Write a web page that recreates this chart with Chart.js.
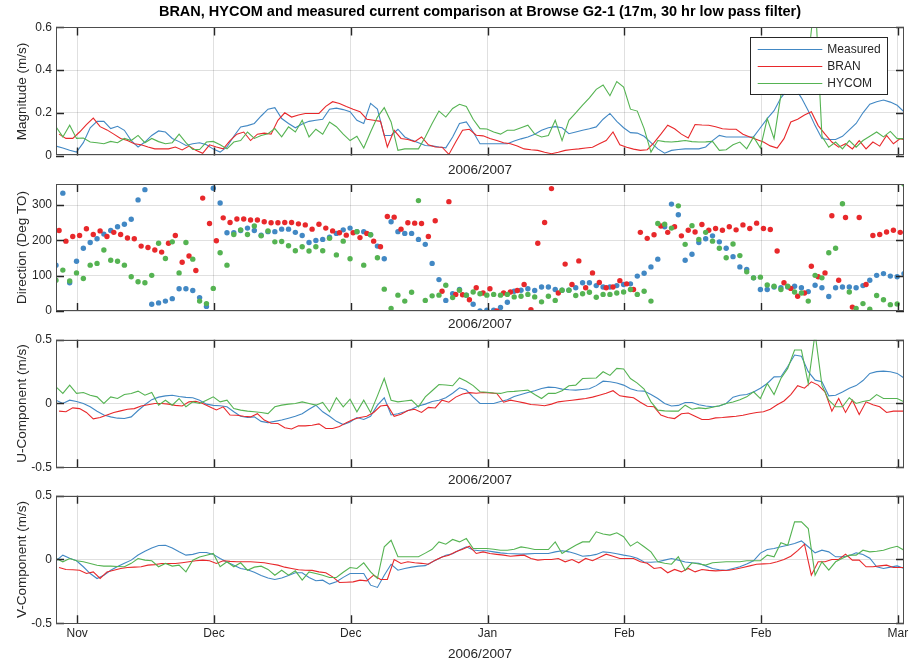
<!DOCTYPE html>
<html>
<head>
<meta charset="utf-8">
<script src="https://cdn.jsdelivr.net/npm/chart.js@4"></script>
<style>
  html, body { margin: 0; padding: 0; background: #fff; }
  #fig { position: relative; width: 913px; height: 664px; overflow: hidden; background: #fff; }
  #fig canvas { position: absolute; left: 0; }
</style>
</head>
<body>
<div id="fig">
  <canvas id="magChart" width="913" height="182" style="top:0px"></canvas>
  <canvas id="dirChart" width="913" height="162" style="top:172px"></canvas>
  <canvas id="uChart" width="913" height="163" style="top:327px"></canvas>
  <canvas id="vChart" width="913" height="182" style="top:482px"></canvas>
</div>
<script>
// #region Data (daily samples, day 0 = start of record)
const dayIndex = Array.from({ length: 125 }, (_, i) => i);
const branShift = 0.45; // BRAN samples sit about half a day later
const tickDays = [3.1, 23.1, 43.1, 63.1, 83.1, 103.1, 123.1];
const tickLabels = ["Nov", "Dec", "Dec", "Jan", "Feb", "Feb", "Mar"];
const seriesNames = ["Measured", "BRAN", "HYCOM"];

// Magnitude (m/s)
const magMeasured = [
  0.044,0.035,0.025,0.016,0.06,0.13,0.16,0.16,0.126,0.137,
  0.118,0.07,0.04,0.063,0.094,0.115,0.11,0.08,0.065,0.047,
  0.055,0.06,0.05,0.03,0.016,0.04,0.09,0.134,0.14,0.15,
  0.185,0.217,0.224,0.173,0.15,0.13,0.148,0.16,0.165,0.17,
  0.217,0.222,0.215,0.205,0.165,0.15,0.244,0.217,0.094,0.094,
  0.123,0.087,0.072,0.06,0.047,0.045,0.04,0.036,0.087,0.15,
  0.157,0.11,0.055,0.055,0.055,0.055,0.055,0.068,0.078,0.087,
  0.1,0.118,0.13,0.135,0.13,0.102,0.11,0.118,0.125,0.134,
  0.17,0.197,0.16,0.13,0.107,0.105,0.09,0.06,0.031,0.011,
  0.024,0.028,0.031,0.031,0.031,0.04,0.07,0.094,0.087,0.087,
  0.087,0.087,0.087,0.13,0.173,0.21,0.27,0.31,0.32,0.27,
  0.21,0.14,0.08,0.075,0.075,0.09,0.12,0.15,0.2,0.24,
  0.252,0.26,0.25,0.235,0.205
];
const magBran = [
  0.1,0.08,0.08,0.11,0.145,0.175,0.135,0.12,0.1,0.08,
  0.07,0.055,0.05,0.04,0.031,0.031,0.031,0.04,0.026,0.044,
  0.025,0.01,0.05,0.04,0.031,0.07,0.1,0.11,0.07,0.1,
  0.105,0.1,0.165,0.2,0.18,0.19,0.197,0.197,0.197,0.23,
  0.252,0.244,0.23,0.217,0.205,0.17,0.165,0.16,0.04,0.118,
  0.08,0.075,0.065,0.087,0.05,0.04,0.039,0.005,0.063,0.118,
  0.123,0.095,0.092,0.08,0.07,0.06,0.055,0.045,0.031,0.027,
  0.024,0.015,0.008,0.015,0.024,0.028,0.031,0.035,0.039,0.055,
  0.07,0.11,0.05,0.039,0.03,0.024,0.027,0.06,0.1,0.142,
  0.125,0.1,0.082,0.145,0.143,0.142,0.135,0.125,0.123,0.123,
  0.1,0.087,0.075,0.063,0.045,0.035,0.079,0.157,0.17,0.19,
  0.205,0.14,0.1,0.063,0.039,0.055,0.031,0.07,0.031,0.063,
  0.044,0.094,0.055,0.079,0.07
];
const magHycom = [
  0.134,0.087,0.142,0.08,0.082,0.063,0.06,0.055,0.066,0.06,
  0.08,0.07,0.094,0.06,0.08,0.065,0.055,0.06,0.1,0.06,
  0.028,0.028,0.063,0.066,0.05,0.031,0.063,0.07,0.11,0.08,
  0.094,0.102,0.126,0.087,0.134,0.11,0.165,0.087,0.123,0.1,
  0.157,0.135,0.1,0.07,0.09,0.035,0.11,0.18,0.224,0.157,
  0.024,0.031,0.031,0.031,0.087,0.15,0.208,0.18,0.22,0.24,
  0.23,0.17,0.126,0.124,0.11,0.1,0.118,0.118,0.13,0.142,
  0.1,0.087,0.094,0.165,0.07,0.165,0.2,0.236,0.27,0.31,
  0.33,0.28,0.346,0.32,0.217,0.208,0.126,0.016,0.07,0.065,
  0.063,0.066,0.07,0.065,0.063,0.064,0.066,0.024,0.027,0.05,
  0.063,0.031,0.087,0.035,0.173,0.079,0.283,0.33,0.36,0.4,
  0.45,0.75,0.09,0.039,0.063,0.031,0.07,0.039,0.07,0.09,
  0.11,0.087,0.113,0.079,0.079
];

// Direction (deg TO)
const dirMeasured = [
  130,334,80,141,178,194,205,218,228,239,
  246,260,315,344,19,23,28,35,63,63,
  58,38,13,348,306,222,222,228,235,228,
  215,225,225,232,232,223,214,194,200,203,
  209,220,230,235,225,225,216,184,148,253,
  225,220,220,203,189,135,89,30,49,61,
  45,19,0,2,2,10,25,56,59,63,
  58,68,68,61,59,59,66,80,80,72,
  68,68,72,75,77,99,107,125,147,239,
  303,273,144,161,194,205,213,196,178,154,
  125,118,94,61,61,68,66,68,70,66,
  55,73,66,41,66,68,68,66,72,87,
  101,106,99,97,106
];
const dirBran = [
  228,198,211,214,233,217,227,211,223,217,
  207,205,184,180,173,167,192,214,138,156,
  115,320,248,199,264,251,261,261,258,258,
  253,250,250,251,251,247,244,232,246,235,
  227,222,215,222,208,220,198,182,268,266,
  232,250,249,248,211,256,56,310,47,46,
  32,66,51,63,0,51,54,58,75,4,
  192,251,347,51,133,75,142,66,108,81,
  66,68,86,77,61,223,206,216,241,223,
  239,213,229,224,245,229,234,229,239,230,
  244,234,249,234,231,170,80,64,42,51,
  127,97,108,270,87,265,11,265,75,214,
  217,224,229,223
];
const dirHycom = [
  87,116,85,108,92,130,135,173,144,141,
  130,97,83,80,101,192,149,196,108,194,
  147,28,21,64,165,130,217,230,217,241,
  213,227,196,197,185,171,182,170,182,171,
  206,159,198,148,225,130,216,151,62,7,
  45,28,53,313,30,43,45,73,38,59,
  45,54,49,45,47,45,47,40,42,47,
  40,26,42,30,59,59,44,49,53,39,
  47,47,51,54,61,47,56,28,248,246,
  235,298,189,242,203,223,198,178,151,190,
  157,111,94,96,74,70,61,70,54,51,
  28,101,94,165,178,304,54,7,21,5,
  44,32,18,20,360
];

// U-Component (m/s)
const uMeasured = [
  0.026,0,0.026,0.015,0,-0.026,-0.06,-0.09,-0.105,-0.115,
  -0.118,-0.105,-0.055,-0.01,0.03,0.05,0.06,0.065,0.055,0.048,
  0.045,0.026,-0.005,-0.015,-0.018,-0.026,-0.065,-0.1,-0.11,-0.105,
  -0.14,-0.15,-0.14,-0.13,-0.115,-0.1,-0.08,-0.045,-0.013,-0.065,
  -0.1,-0.14,-0.165,-0.145,-0.11,-0.125,-0.1,-0.013,0.045,-0.09,
  -0.08,-0.065,-0.045,-0.02,-0.005,0.015,0.026,0.045,0.08,0.123,
  0.105,0.05,0,0,0,0.015,0.03,0.055,0.07,0.086,
  0.1,0.118,0.128,0.125,0.113,0.108,0.105,0.11,0.115,0.14,
  0.175,0.17,0.16,0.144,0.115,0.1,0.097,0.07,0.039,0,
  -0.02,-0.015,0.008,0.008,-0.01,-0.02,-0.026,-0.02,0,0.05,
  0.065,0.07,0.09,0.12,0.157,0.209,0.21,0.29,0.38,0.37,
  0.25,0.183,0.17,0.06,0.065,0.09,0.12,0.14,0.18,0.236,
  0.25,0.254,0.249,0.236,0.2
];
const uBran = [
  -0.06,-0.065,-0.034,-0.04,-0.07,-0.12,-0.11,-0.09,-0.07,-0.058,
  -0.045,-0.04,-0.02,-0.01,0,0,-0.005,-0.015,-0.02,0.013,
  0.018,0,-0.025,-0.05,-0.026,-0.09,-0.092,-0.1,-0.105,-0.08,
  -0.13,-0.155,-0.157,-0.19,-0.2,-0.175,-0.175,-0.17,-0.16,-0.196,
  -0.196,-0.18,-0.15,-0.125,-0.11,-0.1,-0.07,-0.02,-0.013,-0.1,
  -0.085,-0.055,-0.045,-0.07,-0.03,-0.035,0.026,0.01,0.05,0.075,
  0.085,0.08,0.086,0.083,0.079,0.01,0.026,0.015,0.005,-0.008,
  -0.012,-0.018,-0.005,0.013,0.02,0.026,0.032,0.039,0.05,0.065,
  0.08,0.1,0.06,0.052,0.045,0.01,-0.022,-0.026,-0.09,-0.11,
  -0.118,-0.08,-0.075,-0.1,-0.125,-0.125,-0.113,-0.11,-0.105,-0.1,
  -0.092,-0.08,-0.07,-0.065,-0.045,-0.01,0.02,0.07,0.14,0.12,
  0.17,0.144,0.092,-0.06,0.039,-0.07,0.026,-0.086,0.013,-0.01,
  -0.026,-0.07,-0.06,-0.06,-0.06
];
const uHycom = [
  0.131,0.079,0.144,0.079,0.086,0.065,0.052,0,0.052,0.039,
  0.07,0.079,0.097,0.065,0.086,-0.013,0.026,-0.013,0.039,-0.026,
  0.013,0,0.026,0.052,0.013,0.026,-0.04,-0.052,-0.06,-0.065,
  -0.07,-0.079,-0.026,-0.013,-0.005,0,0.013,0,-0.013,0.008,
  -0.065,0.045,-0.026,0.034,-0.065,0.026,-0.07,0.06,0.196,0.026,
  0.013,0.02,0.026,-0.026,0.052,0.1,0.149,0.145,0.139,0.2,
  0.175,0.14,0.092,0.088,0.082,0.079,0.092,0.095,0.1,0.105,
  0.07,0.039,0.079,0.079,0.1,0.139,0.144,0.196,0.198,0.2,
  0.249,0.22,0.275,0.27,0.196,0.16,0.113,0.013,-0.052,-0.058,
  -0.06,-0.06,-0.013,-0.045,-0.034,-0.04,-0.03,-0.018,0,0.012,
  0.03,0.052,0.092,0.039,0.157,0.07,0.196,0.275,0.419,0.419,
  0.157,0.55,0.144,0.026,-0.026,-0.026,0.045,0,0.015,0.026,
  0.07,0.039,0.039,0.039,0.013
];

// V-Component (m/s)
const vMeasured = [
  -0.01,0.034,0.01,-0.01,-0.057,-0.11,-0.149,-0.123,-0.084,-0.055,
  -0.03,-0.005,0.035,0.065,0.09,0.11,0.112,0.09,0.06,0.034,
  0.04,0.055,0.055,0.04,0.008,-0.02,-0.045,-0.07,-0.08,-0.1,
  -0.125,-0.145,-0.157,-0.145,-0.125,-0.104,-0.104,-0.141,-0.167,-0.162,
  -0.193,-0.175,-0.14,-0.11,-0.11,-0.11,-0.201,-0.219,-0.123,-0.037,
  -0.084,-0.07,-0.06,-0.052,-0.048,-0.02,0.008,0.034,0.045,0.075,
  0.099,0.075,0.068,0.068,0.06,0.052,0.047,0.045,0.042,0.044,
  0.047,0.047,0.047,0.06,0.068,0.06,0.045,0.025,0.03,0.04,
  0.06,0.055,0.045,0.034,0.025,0.01,-0.02,-0.022,-0.018,-0.005,
  0.008,-0.005,-0.02,-0.026,-0.03,-0.05,-0.07,-0.08,-0.084,-0.07,
  -0.057,-0.035,-0.01,0.05,0.078,0.086,0.1,0.112,0.125,0.146,
  0.1,0.052,0.073,0.06,0.021,0.021,0.03,0.052,0.04,0.01,
  -0.057,-0.07,-0.06,-0.05,-0.07
];
const vBran = [
  -0.063,-0.078,-0.08,-0.084,-0.11,-0.097,-0.149,-0.097,-0.084,-0.07,
  -0.063,-0.06,-0.057,-0.044,-0.04,-0.031,-0.031,-0.031,-0.025,-0.018,
  -0.01,-0.005,-0.01,-0.031,-0.01,-0.015,-0.018,-0.018,-0.018,-0.022,
  -0.026,-0.035,-0.044,-0.06,-0.07,-0.08,-0.084,-0.085,-0.097,-0.104,
  -0.136,-0.18,-0.178,-0.175,-0.162,-0.167,-0.123,-0.157,-0.157,0,
  -0.031,-0.018,-0.026,-0.03,-0.037,-0.005,0.02,0.034,0.06,0.08,
  0.104,0.047,0.06,0.047,0.04,0.034,0.026,0.03,0.034,0.008,
  -0.005,0,0,0.008,-0.018,0,-0.026,0.008,-0.01,0.015,
  0.042,0.026,0.008,0.008,0.008,-0.018,-0.03,-0.07,-0.063,-0.104,
  -0.078,-0.097,-0.07,-0.097,-0.078,-0.085,-0.089,-0.086,-0.084,-0.075,
  -0.063,-0.05,-0.037,-0.034,-0.031,-0.018,0,0.026,0.07,0.12,
  -0.123,-0.018,-0.018,0,0,0.042,-0.005,-0.005,-0.057,-0.057,
  -0.05,-0.044,-0.063,-0.063,-0.063
];
const vHycom = [
  0.008,-0.018,0.008,-0.01,-0.018,-0.031,-0.045,-0.052,-0.052,-0.055,
  -0.057,-0.03,0.008,-0.005,-0.01,-0.057,-0.031,-0.052,-0.044,-0.097,
  -0.005,0.02,0.034,0.047,-0.057,-0.018,-0.057,-0.026,-0.084,-0.06,
  -0.052,-0.078,-0.123,-0.084,-0.123,-0.089,-0.162,-0.097,-0.11,-0.123,
  -0.141,-0.141,-0.1,-0.063,-0.07,-0.026,-0.097,-0.149,0.099,0.151,
  0.021,0.021,0.021,0.021,0.05,0.08,0.138,0.12,0.157,0.138,
  0.164,0.086,0.086,0.086,0.08,0.073,0.073,0.08,0.099,0.09,
  0.078,0.078,0.078,0.138,0.047,0.08,0.112,0.138,0.138,0.217,
  0.2,0.191,0.209,0.178,0.105,0.138,0.1,0.06,-0.018,-0.03,
  -0.037,0.021,-0.084,-0.026,-0.035,-0.044,-0.026,-0.022,-0.018,-0.018,
  -0.018,-0.01,-0.01,-0.01,0.034,0.021,0.131,0.112,0.295,0.295,
  0.243,-0.123,-0.018,-0.084,-0.018,0.01,0.034,0.034,0.073,0.06,
  0.065,0.073,0.09,0.104,0.073
];
// #endregion

const FONT = "'Liberation Sans', Arial, Helvetica, sans-serif";
Chart.defaults.font.family = FONT;
Chart.defaults.font.size = 12;
Chart.defaults.color = "#262626";

const colors = ["#4288c4", "#e8282b", "#55b352"];
const gridColor = "rgba(0,0,0,0.12)";
const labelFont = { size: 13.5 };

function xy(vals, shift) {
  return vals.map((v, i) => ({ x: dayIndex[i] + shift, y: v }));
}

function lineSets(m, b, h) {
  return [
    { label: seriesNames[0], data: xy(m, 0), borderColor: colors[0], order: 3 },
    { label: seriesNames[1], data: xy(b, branShift), borderColor: colors[1], order: 2 },
    { label: seriesNames[2], data: xy(h, 0), borderColor: colors[2], order: 1 }
  ].map(d => Object.assign(d, { borderWidth: 1.1, pointRadius: 0, tension: 0, fill: false }));
}

function dotSets(m, b, h) {
  return [
    { label: seriesNames[0], data: xy(m, 0), backgroundColor: colors[0], order: 3 },
    { label: seriesNames[1], data: xy(b, branShift), backgroundColor: colors[1], order: 2 },
    { label: seriesNames[2], data: xy(h, 0), backgroundColor: colors[2], order: 1 }
  ].map(d => Object.assign(d, { pointRadius: 2.7, borderWidth: 0, pointBorderWidth: 0 }));
}

function xAxis(showLabels, axisHeight, titlePad) {
  return {
    type: "linear", min: 0, max: 124,
    grid: { color: gridColor, drawTicks: false },
    border: { display: false },
    afterBuildTicks: s => { s.ticks = tickDays.map(v => ({ value: v })); },
    afterFit: s => { s.height = axisHeight; },
    ticks: { display: showLabels, autoSkip: false, maxRotation: 0, padding: 3.5,
             callback: (v, i) => tickLabels[i] },
    title: { display: true, text: "2006/2007", font: labelFont, padding: { top: 0, bottom: titlePad } }
  };
}

function yAxis(min, max, vals, label) {
  return {
    type: "linear", min, max,
    grid: { color: gridColor, drawTicks: false },
    border: { display: false },
    afterBuildTicks: s => { s.ticks = vals.map(v => ({ value: v })); },
    afterFit: s => { s.width = 56; },
    ticks: { padding: 4, callback: v => String(v) },
    title: { display: true, text: label, font: labelFont, padding: { top: 14, bottom: 0 } }
  };
}

// box round the axes, ticks drawn inward like matlab
const boxPlugin = {
  id: "box",
  afterDatasetsDraw(chart) {
    const { ctx, chartArea: a, scales: { x, y } } = chart;
    ctx.save();
    ctx.strokeStyle = "#262626";
    ctx.lineWidth = 1.4;
    ctx.beginPath();
    x.ticks.forEach(t => {
      const px = Math.round(x.getPixelForValue(t.value)) + 0.5;
      ctx.moveTo(px, a.top); ctx.lineTo(px, a.top + 8);
      ctx.moveTo(px, a.bottom); ctx.lineTo(px, a.bottom - 8);
    });
    y.ticks.forEach(t => {
      const py = Math.round(y.getPixelForValue(t.value)) + 0.5;
      ctx.moveTo(a.left, py); ctx.lineTo(a.left + 8, py);
      ctx.moveTo(a.right, py); ctx.lineTo(a.right - 8, py);
    });
    ctx.stroke();
    ctx.lineWidth = 1;
    ctx.strokeStyle = "#4d4d4d";
    ctx.strokeRect(Math.round(a.left) + 0.5, Math.round(a.top) + 0.5,
                   Math.round(a.width) - 1, Math.round(a.height) - 1);
    ctx.restore();
  }
};

// legend box in the top right of the first panel
const legendBox = {
  id: "legendBox",
  afterDraw(chart) {
    const { ctx, chartArea: a } = chart;
    const w = 137, h = 57;
    const left = a.right - 17 - w, top = a.top + 9.5;
    ctx.save();
    ctx.fillStyle = "#fff";
    ctx.fillRect(left, top, w, h);
    ctx.strokeStyle = "#262626";
    ctx.lineWidth = 1;
    ctx.strokeRect(Math.round(left) + 0.5, Math.round(top) + 0.5, w, h);
    ctx.font = "12px " + FONT;
    ctx.textBaseline = "middle";
    chart.data.datasets.forEach((ds, i) => {
      const yy = Math.round(top + 12.3 + i * 16.9) + 0.5;
      ctx.strokeStyle = ds.borderColor;
      ctx.lineWidth = 1.1;
      ctx.beginPath();
      ctx.moveTo(left + 7.7, yy); ctx.lineTo(left + 72.3, yy);
      ctx.stroke();
      ctx.fillStyle = "#262626";
      ctx.fillText(ds.label, left + 77.3, yy);
    });
    ctx.restore();
  }
};

function makeChart(id, type, datasets, x, y, padTop, extra, title) {
  return new Chart(document.getElementById(id), {
    type: type,
    data: { datasets: datasets },
    options: {
      responsive: false,
      animation: false,
      events: [],
      layout: { padding: { top: padTop, right: 9, bottom: 0, left: 0 } },
      scales: { x: x, y: y },
      plugins: {
        legend: { display: false },
        tooltip: { enabled: false },
        title: title || { display: false }
      }
    },
    plugins: [boxPlugin].concat(extra || [])
  });
}

makeChart("magChart", "line", lineSets(magMeasured, magBran, magHycom),
  xAxis(false, 26.5, 3.9), yAxis(0, 0.6, [0, 0.2, 0.4, 0.6], "Magnitude (m/s)"), 0,
  [legendBox],
  { display: true, fullSize: false, color: "#000",
    text: "BRAN, HYCOM and measured current comparison at Browse G2-1 (17m, 30 hr low pass filter)",
    font: { size: 14.5, weight: "bold" }, padding: { top: 3, bottom: 7 } });

makeChart("dirChart", "scatter", dotSets(dirMeasured, dirBran, dirHycom),
  xAxis(false, 23, 1.9), yAxis(0, 360, [0, 100, 200, 300], "Direction (Deg TO)"), 12);

makeChart("uChart", "line", lineSets(uMeasured, uBran, uHycom),
  xAxis(false, 22.7, 1.9), yAxis(-0.5, 0.5, [-0.5, 0, 0.5], "U-Component (m/s)"), 12.7);

makeChart("vChart", "line", lineSets(vMeasured, vBran, vHycom),
  xAxis(true, 40.7, 1.9), yAxis(-0.5, 0.5, [-0.5, 0, 0.5], "V-Component (m/s)"), 13.7);
</script>
</body>
</html>
